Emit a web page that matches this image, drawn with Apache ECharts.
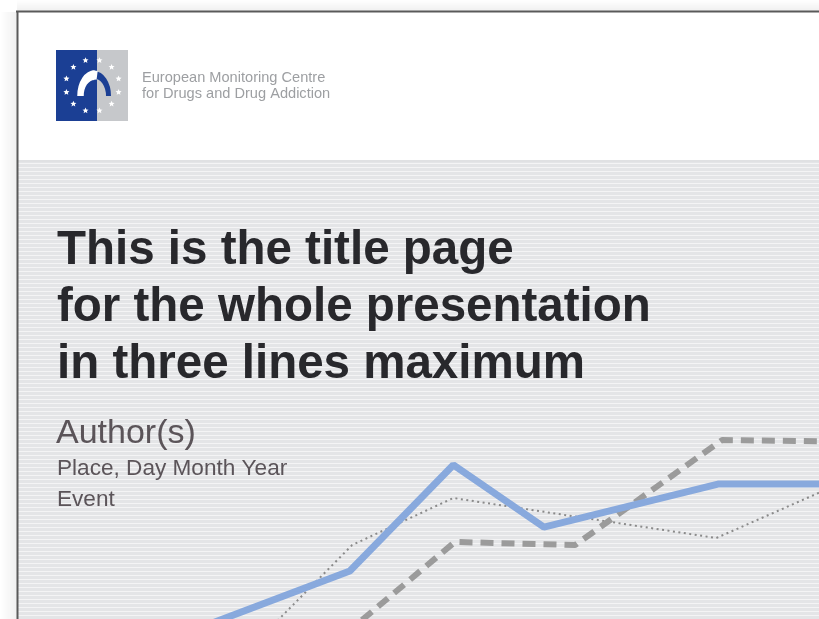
<!DOCTYPE html>
<html>
<head>
<meta charset="utf-8">
<script src="https://cdn.jsdelivr.net/npm/echarts@6/dist/echarts.min.js"></script>
<style>
  html, body { margin: 0; padding: 0; background: #fff; }
  #main { width: 819px; height: 619px; }
</style>
</head>
<body>
<div id="main"></div>
<script>
// decorative chart on the title slide, [x, y] pairs
const solidBlue = [[12.8, -19.6], [41.5, 24.1], [54.4, 77.4], [65.7, 46.2], [87.4, 67.8], [110.1, 67.8]]
const dashedGrey = [[39.0, -14.1], [54.6, 38.7], [69.6, 37.2], [87.9, 89.9], [110.1, 88.9]]
const dottedGrey = [[29.1, -14.6], [41.8, 37.2], [54.4, 60.8], [87.2, 40.7], [110.1, 81.4]]

const titleLines = ['This is the title page', 'for the whole presentation', 'in three lines maximum']
const subLines = ['Place, Day Month Year', 'Event']
const orgLines = ['European Monitoring Centre', 'for Drugs and Drug Addiction']

const FONT = '"Liberation Sans", Arial, sans-serif'

// striped background pattern
function stripes() {
  const c = document.createElement('canvas')
  c.width = 8
  c.height = 4
  const ctx = c.getContext('2d')
  ctx.fillStyle = '#e4e5e7'
  ctx.fillRect(0, 0, 8, 4)
  ctx.fillStyle = '#f4f4f5'
  ctx.fillRect(0, 3, 8, 1)
  return c
}

function star(cx, cy, r) {
  const pts = []
  for (let i = 0; i < 10; i++) {
    const a = -Math.PI / 2 + i * Math.PI / 5
    const rr = i % 2 ? r * 0.45 : r
    pts.push([cx + rr * Math.cos(a), cy + rr * Math.sin(a)])
  }
  return { type: 'polygon', shape: { points: pts }, style: { fill: '#fff' }, z: 1 }
}

function logo() {
  const els = [
    { type: 'rect', shape: { x: 56, y: 50, width: 41, height: 71 }, style: { fill: '#1b3f94' }, z: 1 },
    { type: 'rect', shape: { x: 97, y: 50, width: 31, height: 71 }, style: { fill: '#c6c8cb' }, z: 1 }
  ]
  for (let i = 0; i < 12; i++) {
    const a = i * Math.PI / 6 + Math.PI / 12
    els.push(star(92.5 + 27 * Math.cos(a), 85.5 + 26 * Math.sin(a), 3.2))
  }
  // arch: white over blue, blue over grey
  els.push({
    type: 'arc', shape: { cx: 94.5, cy: 96, r: 14, startAngle: Math.PI, endAngle: Math.PI * 1.5 },
    originX: 94.5, originY: 96, scaleY: 1.5,
    style: { stroke: '#fff', lineWidth: 6.5, fill: null }, z: 2
  })
  els.push({
    type: 'arc', shape: { cx: 94.5, cy: 96, r: 14, startAngle: Math.PI * 1.5, endAngle: Math.PI * 2 },
    originX: 94.5, originY: 96, scaleY: 1.5,
    style: { stroke: '#1b3f94', lineWidth: 5, fill: null }, z: 2
  })
  els.push({
    type: 'arc', shape: { cx: 94.5, cy: 96, r: 14, startAngle: Math.PI * 1.45, endAngle: Math.PI * 1.56 },
    originX: 94.5, originY: 96, scaleY: 1.5,
    style: { stroke: '#fff', lineWidth: 6, fill: null }, z: 3
  })
  orgLines.forEach((t, i) => {
    els.push({ type: 'text', x: 142, y: 78 + i * 16, style: { text: t, font: '14.6px ' + FONT, fill: '#9d9fa2', verticalAlign: 'middle' }, z: 1 })
  })
  return els
}

function frame() {
  return [
    { type: 'rect', shape: { x: 17, y: 0, width: 802, height: 11 },
      style: { fill: new echarts.graphic.LinearGradient(0, 0, 0, 1, [{ offset: 0, color: 'rgba(0,0,0,0)' }, { offset: 1, color: 'rgba(0,0,0,0.06)' }]) }, z: 0 },
    { type: 'rect', shape: { x: 0, y: 12, width: 17, height: 607 },
      style: { fill: new echarts.graphic.LinearGradient(0, 0, 1, 0, [{ offset: 0, color: 'rgba(0,0,0,0)' }, { offset: 1, color: 'rgba(0,0,0,0.06)' }]) }, z: 0 },
    { type: 'rect', shape: { x: 17, y: 12, width: 802, height: 148 }, style: { fill: '#fff' }, z: 0 },
    { type: 'rect', shape: { x: 17, y: 160, width: 802, height: 459 }, style: { fill: { image: stripes(), repeat: 'repeat' } }, z: 0 },
    { type: 'rect', shape: { x: 17, y: 160, width: 802, height: 2 }, style: { fill: '#e0e1e3' }, z: 0 },
    { type: 'line', shape: { x1: 16, y1: 11.5, x2: 819, y2: 11.5 }, style: { stroke: '#5a5a5a', lineWidth: 2 }, z: 5 },
    { type: 'line', shape: { x1: 17.5, y1: 11, x2: 17.5, y2: 619 }, style: { stroke: '#5a5a5a', lineWidth: 2 }, z: 5 }
  ]
}

function texts() {
  const els = []
  titleLines.forEach((t, i) => {
    els.push({ type: 'text', x: 57, y: 251 + i * 57, style: { text: t, font: 'bold 47.5px ' + FONT, fill: '#28282c', verticalAlign: 'middle' }, z: 1 })
  })
  els.push({ type: 'text', x: 56, y: 434, style: { text: 'Author(s)', font: '34px ' + FONT, fill: '#5b5459', verticalAlign: 'middle' }, z: 1 })
  subLines.forEach((t, i) => {
    els.push({ type: 'text', x: 57, y: 468.5 + i * 31.5, style: { text: t, font: '22.6px ' + FONT, fill: '#5b5459', verticalAlign: 'middle' }, z: 1 })
  })
  return els
}

const chart = echarts.init(document.getElementById('main'))
chart.setOption({
  animation: false,
  graphic: { elements: frame().concat(logo(), texts()) },
  grid: { left: 17, right: 0, top: 420, bottom: 0 },
  xAxis: { type: 'value', min: 0, max: 100, show: false },
  yAxis: { type: 'value', min: 0, max: 100, show: false },
  series: [
    {
      type: 'line', data: dottedGrey, symbol: 'none', clip: true, z: 3,
      lineStyle: { color: '#8a8a8a', width: 2, type: [2, 3.5] }
    },
    {
      type: 'line', data: dashedGrey, symbol: 'none', clip: true, z: 4,
      lineStyle: { color: '#9b9b9b', width: 6, type: [13, 8] }
    },
    {
      type: 'line', data: solidBlue, symbol: 'none', clip: true, z: 5,
      lineStyle: { color: '#88a9dd', width: 7 }
    }
  ]
})
</script>
</body>
</html>
